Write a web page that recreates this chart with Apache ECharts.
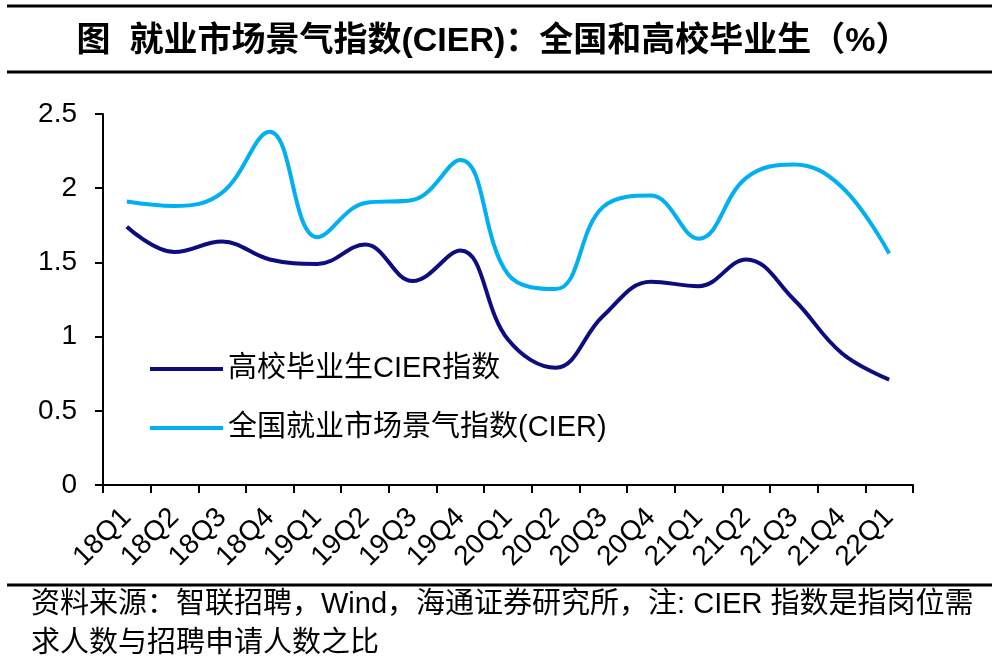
<!DOCTYPE html>
<html>
<head>
<meta charset="utf-8">
<script src="https://cdn.jsdelivr.net/npm/echarts@6/dist/echarts.min.js"></script>
<style>
html,body{margin:0;padding:0;background:#fff;}
#c{width:1004px;height:664px;}
</style>
</head>
<body>
<div id="c"></div>
<script>
var categories = ['18Q1','18Q2','18Q3','18Q4','19Q1','19Q2','19Q3','19Q4','20Q1','20Q2','20Q3','20Q4','21Q1','21Q2','21Q3','21Q4','22Q1'];
var graduateCIER = [1.74,1.57,1.64,1.52,1.49,1.62,1.375,1.58,0.98,0.79,1.14,1.37,1.34,1.52,1.25,0.89,0.71];
var nationalCIER = [1.91,1.88,1.97,2.38,1.67,1.90,1.92,2.19,1.42,1.32,1.875,1.95,1.66,2.07,2.16,2.01,1.56];
var yTicks = [0,0.5,1,1.5,2,2.5];

var FONT = '"Liberation Sans", Arial, "Noto Sans CJK SC", sans-serif';
var chart = echarts.init(document.getElementById('c'));
chart.setOption({
  animation: false,
  backgroundColor: '#fff',
  grid: {left: 103, right: 91, top: 114, bottom: 179, containLabel: false},
  graphic: [
    {type: 'line', shape: {x1: 7, y1: 6, x2: 992, y2: 6}, style: {stroke: '#000', lineWidth: 3}},
    {type: 'line', shape: {x1: 7, y1: 72, x2: 992, y2: 72}, style: {stroke: '#000', lineWidth: 3}},
    {type: 'line', shape: {x1: 7, y1: 585, x2: 992, y2: 585}, style: {stroke: '#000', lineWidth: 3}},
    {type: 'text', x: 493, y: 42, style: {text: '图  就业市场景气指数(CIER)：全国和高校毕业生（%）', fill: '#000', font: 'bold 34px ' + FONT, textAlign: 'center', textVerticalAlign: 'middle'}},
    {type: 'text', x: 31, y: 605, style: {text: '资料来源：智联招聘，Wind，海通证券研究所，注: CIER 指数是指岗位需', fill: '#000', font: '29px ' + FONT, textAlign: 'left', textVerticalAlign: 'middle'}},
    {type: 'text', x: 31, y: 644, style: {text: '求人数与招聘申请人数之比', fill: '#000', font: '29px ' + FONT, textAlign: 'left', textVerticalAlign: 'middle'}}
  ],
  legend: {
    orient: 'vertical',
    left: 145,
    top: 349,
    icon: 'rect',
    itemWidth: 73,
    itemHeight: 4,
    itemGap: 29,
    textStyle: {fontSize: 29, lineHeight: 30, color: '#000', fontFamily: FONT},
    data: ['高校毕业生CIER指数', '全国就业市场景气指数(CIER)']
  },
  xAxis: {
    type: 'category',
    data: categories,
    boundaryGap: true,
    axisLine: {lineStyle: {color: '#000', width: 2}},
    axisTick: {show: true, length: 8, inside: false, alignWithLabel: false, lineStyle: {color: '#000', width: 2}},
    axisLabel: {rotate: 45, interval: 0, margin: 28, fontSize: 28, color: '#000', fontFamily: FONT},
    splitLine: {show: false}
  },
  yAxis: {
    type: 'value',
    min: yTicks[0],
    max: yTicks[yTicks.length - 1],
    interval: 0.5,
    axisLine: {show: true, lineStyle: {color: '#000', width: 2}},
    axisTick: {show: true, length: 8, lineStyle: {color: '#000', width: 2}},
    axisLabel: {margin: 26, fontSize: 28, color: '#000', fontFamily: FONT},
    splitLine: {show: false}
  },
  series: [
    {name: '高校毕业生CIER指数', type: 'line', data: graduateCIER, smooth: 0.4, symbol: 'none',
     lineStyle: {color: '#0d0d80', width: 4}, itemStyle: {color: '#0d0d80'}},
    {name: '全国就业市场景气指数(CIER)', type: 'line', data: nationalCIER, smooth: 0.4, symbol: 'none',
     lineStyle: {color: '#00b0f0', width: 4}, itemStyle: {color: '#00b0f0'}}
  ]
});
</script>
</body>
</html>
